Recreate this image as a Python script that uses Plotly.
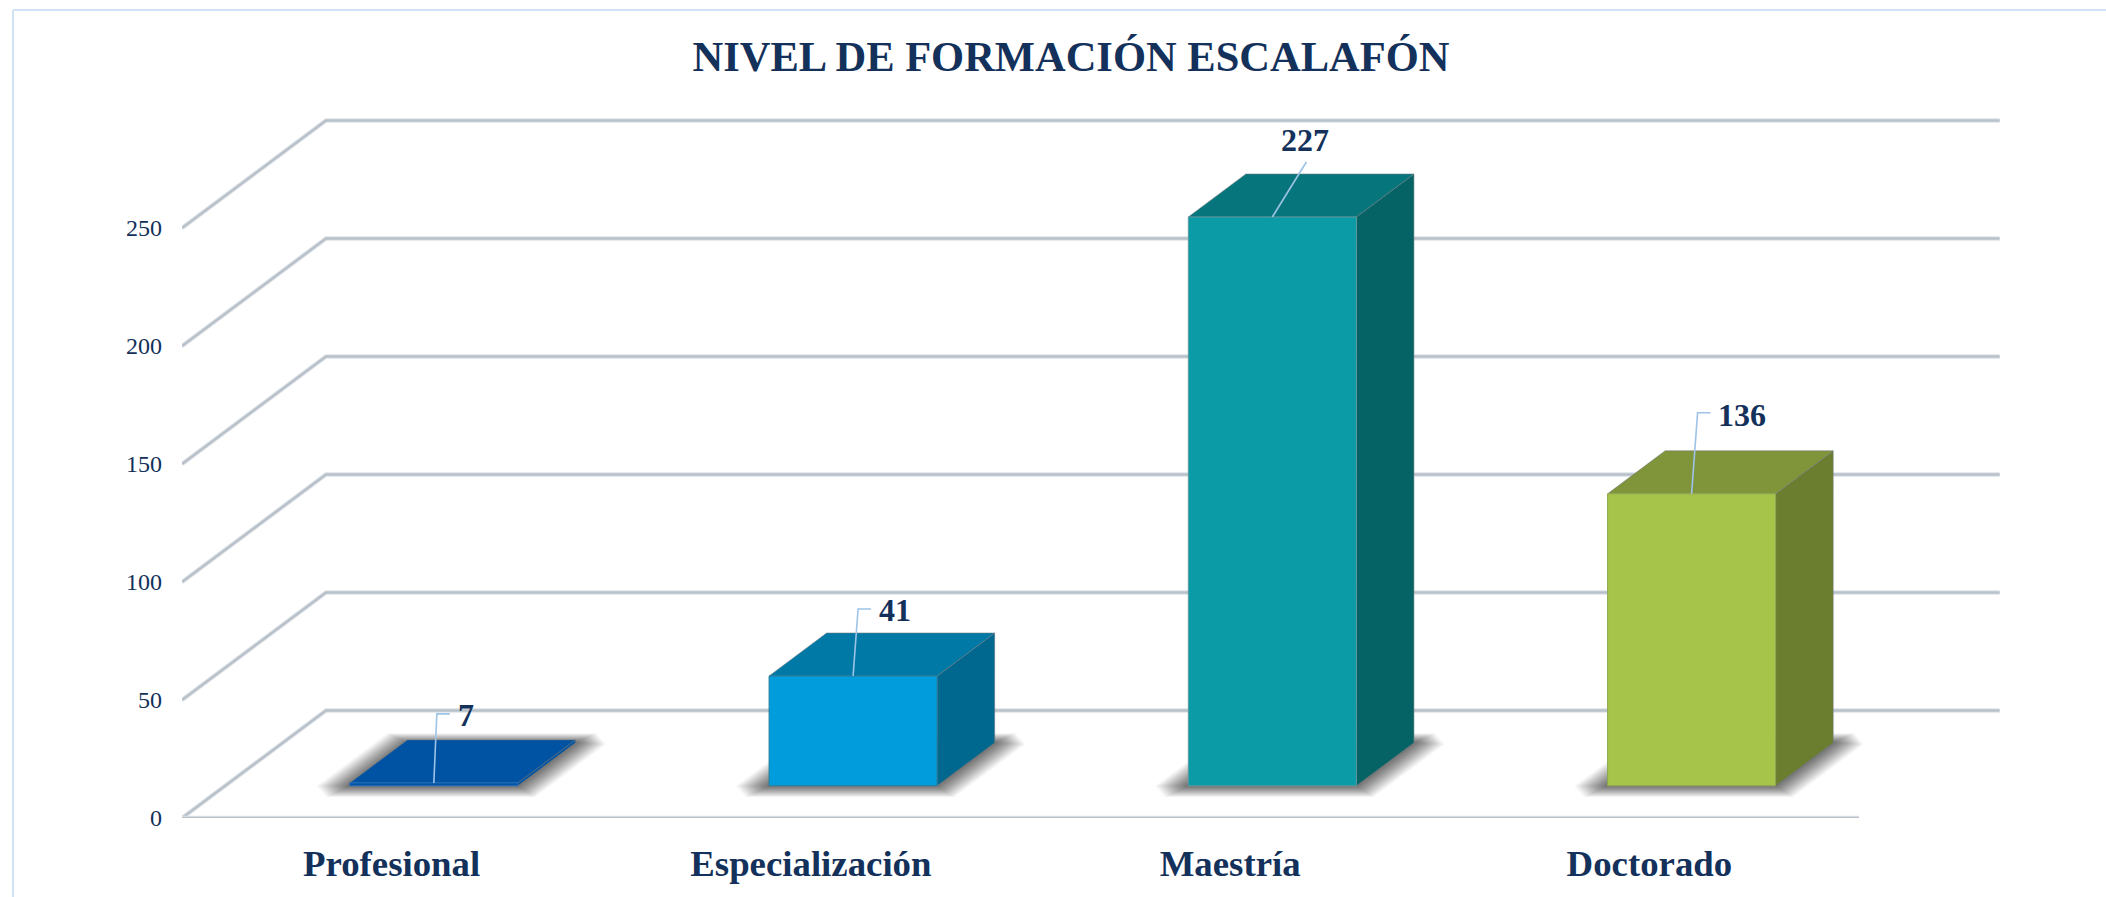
import plotly.graph_objects as go

# ---- data ----
categories = ["Profesional", "Especialización", "Maestría", "Doctorado"]
bar_heights = [1.2, 46.5, 241, 123.7]          # heights as drawn against the axis
value_labels = ["7", "41", "227", "136"]       # numbers printed above the bars
y_ticks = [0, 50, 100, 150, 200, 250]
title_text = "NIVEL DE FORMACIÓN ESCALAFÓN"

# ---- styles ----
front_colors = ["#0052A3", "#009CDB", "#0A9BA6", "#A6C34A"]
top_colors = ["#0052A3", "#0079A6", "#07757C", "#80953A"]
side_colors = ["#0052A3", "#00678F", "#066365", "#6B7D2E"]
edge_colors = ["#1F6FC0", "#2A7D9C", "#5E9AA0", "#8FA64F"]
TEXT = "#13315A"
GRID = "#B8C1CA"
GRID_SOFT = "#E0E4E8"
FONT = "Liberation Serif"

# ---- layout geometry (pixels) ----
W, H = 2106, 897
ML, MR, MT, MB = 182, 104, 100, 79
PX_CAT = 419.25     # pixels per category
PX_VAL = 2.36       # pixels per value unit
DEPTH_X = 144 / PX_CAT
DEPTH_Y = 107.5 / PX_VAL
D0, D1 = 0.30, 0.70         # bar front / back position within the floor depth
BAR_W = 168 / PX_CAT
BAR_NUDGE = -1 / PX_CAT

x_min = -0.5
x_max = x_min + (W - ML - MR) / PX_CAT
y_min = 0
y_max = (H - MT - MB) / PX_VAL

fig = go.Figure()


def poly(xs, ys, fill, line=None, lw=1):
    fig.add_trace(go.Scatter(
        x=list(xs) + [xs[0]], y=list(ys) + [ys[0]], mode="lines", fill="toself",
        fillcolor=fill, line=dict(color=line or "rgba(0,0,0,0)", width=lw if line else 0),
        hoverinfo="skip", showlegend=False))


def grid_line(xs, ys):
    for color, width in ((GRID_SOFT, 4.5), (GRID, 2.5)):
        fig.add_trace(go.Scatter(x=xs, y=ys, mode="lines", line=dict(color=color, width=width),
                                 hoverinfo="skip", showlegend=False))


# gridlines: front-left diagonal and back wall
for t in y_ticks:
    grid_line([x_min, x_min + DEPTH_X, len(categories) - 0.5 + DEPTH_X - 0.008],
              [t, t + DEPTH_Y, t + DEPTH_Y])
# front floor edge
grid_line([x_min, len(categories) - 0.5], [0, 0])

# soft shadows on the floor: equal-alpha layers spaced so the darkness falls off smoothly
SHADOW_STEPS = 24
for i in range(len(categories)):
    xl = i - BAR_W / 2 + D0 * DEPTH_X + BAR_NUDGE
    xr = i + BAR_W / 2 + D0 * DEPTH_X + BAR_NUDGE
    dx = (D1 - D0) * DEPTH_X
    y0 = D0 * DEPTH_Y
    y1 = D1 * DEPTH_Y
    slope = dx / (y1 - y0)
    for k in range(SHADOW_STEPS):
        e = 1 - ((k + 0.5) / SHADOW_STEPS) ** 0.85
        side = 34 * e / PX_CAT
        down = 12 * e / PX_VAL
        up = 10 * e / PX_VAL
        ya, yb = y0 - down, y1 + up
        c_x = 26 * e / PX_CAT       # chamfer of the two pointed corners
        c_y = c_x / slope
        fl = xl - side - down * slope
        fr = xr + side - down * slope
        br = xr + dx + side + up * slope
        bl = xl + dx - side + up * slope
        xs = [fl + c_x, fr, br - c_x * 0.6, br - c_x, bl, fl + c_x * 0.6]
        ys = [ya, ya, yb - c_y * 0.6, yb, yb, ya + c_y * 0.6]
        poly(xs, ys, "rgba(40,40,40,0.036)")

# the bars: front, top, side faces
for i, h in enumerate(bar_heights):
    xl = i - BAR_W / 2 + D0 * DEPTH_X + BAR_NUDGE
    xr = i + BAR_W / 2 + D0 * DEPTH_X + BAR_NUDGE
    dx = (D1 - D0) * DEPTH_X
    y0 = D0 * DEPTH_Y
    dy = (D1 - D0) * DEPTH_Y
    edge = edge_colors[i]
    poly([xr, xr + dx, xr + dx, xr], [y0, y0 + dy, y0 + dy + h, y0 + h], side_colors[i], "rgba(110,120,125,0.55)")
    poly([xl, xr, xr + dx, xl + dx], [y0 + h, y0 + h, y0 + dy + h, y0 + dy + h], top_colors[i], "rgba(110,120,125,0.55)")
    poly([xl, xr, xr, xl], [y0, y0, y0 + h, y0 + h], front_colors[i], edge)

# leader lines and printed values: offsets in pixels from the middle of the bar's top front edge
leader_px = [
    [(0, 0), (3, -69), (16, -69)],
    [(0, 0), (5, -67), (18, -67)],
    [(0, 0), (34, -55)],
    [(0, 0), (6, -81), (19, -81)],
]
label_px = [(32, -68), (42, -66), (33, -77), (50, -79)]

annotations = []
for i, h in enumerate(bar_heights):
    cx = i + D0 * DEPTH_X + BAR_NUDGE
    cy = D0 * DEPTH_Y + h
    fig.add_trace(go.Scatter(
        x=[cx + p[0] / PX_CAT for p in leader_px[i]],
        y=[cy - p[1] / PX_VAL for p in leader_px[i]],
        mode="lines", line=dict(color="#9DC3E8", width=1.6),
        hoverinfo="skip", showlegend=False))
    annotations.append(dict(
        x=cx, y=cy, xref="x", yref="y", text="<b>%s</b>" % value_labels[i], showarrow=False,
        xshift=label_px[i][0], yshift=-label_px[i][1], xanchor="center", yanchor="middle",
        font=dict(family=FONT, size=32, color=TEXT)))

plot_w = W - ML - MR
plot_h = H - MT - MB


def paper_x(px):
    return (px - ML) / plot_w


def paper_y(py):
    return (H - MB - py) / plot_h


frame = dict(type="line", xref="paper", yref="paper", line=dict(color="#CFE2F6", width=2), layer="below")
shapes = [
    dict(frame, x0=paper_x(13), x1=paper_x(W), y0=paper_y(10), y1=paper_y(10)),
    dict(frame, x0=paper_x(13), x1=paper_x(13), y0=paper_y(10), y1=paper_y(H)),
]

fig.update_layout(
    width=W, height=H, autosize=False,
    margin=dict(l=ML, r=MR, t=MT, b=MB, pad=0),
    paper_bgcolor="white", plot_bgcolor="white",
    showlegend=False, shapes=shapes, annotations=annotations,
    title=dict(text="<b>%s</b>" % title_text, x=1071 / W, xref="container", xanchor="center",
               y=1 - 56 / H, yref="container", yanchor="middle",
               font=dict(family=FONT, size=42.5, color=TEXT)),
    xaxis=dict(range=[x_min, x_max], tickmode="array", tickvals=list(range(len(categories))),
               ticktext=["<b>%s</b>" % c for c in categories], showgrid=False, zeroline=False,
               showline=False, ticks="", ticklabelstandoff=20,
               tickfont=dict(family=FONT, size=36.8, color=TEXT)),
    yaxis=dict(range=[y_min, y_max], tickmode="array", tickvals=y_ticks, showgrid=False,
               zeroline=False, showline=False, ticks="", ticklabelstandoff=19,
               tickfont=dict(family=FONT, size=24, color=TEXT)),
)

fig.write_html("out.html", config=dict(displayModeBar=False),
               post_script="document.body.style.margin='0';document.documentElement.style.overflow='hidden';")
